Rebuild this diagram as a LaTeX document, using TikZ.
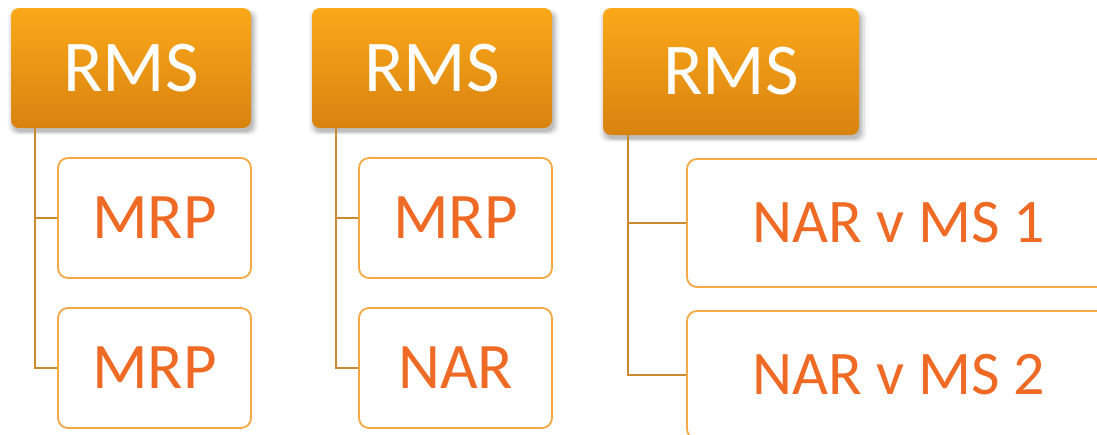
\documentclass[tikz,border=0pt]{standalone}
\usepackage{fontspec}
\setmainfont{Carlito}
\usetikzlibrary{shadows}
\definecolor{hdtop}{HTML}{FCA81A}
\definecolor{hdbot}{HTML}{D8830F}
\definecolor{kidline}{HTML}{F5A843}
\definecolor{kidtext}{HTML}{EF6A24}
\definecolor{conn}{HTML}{C98A30}
\tikzset{
  head/.style={rectangle, rounded corners=8pt, top color=hdtop, bottom color=hdbot, draw=none,
    text=white, font=\fontsize{73}{80}\selectfont, inner sep=0pt,
    general shadow={shadow xshift=2pt, shadow yshift=-4pt, shadow scale=1.0, opacity=0.10, fill=black},
    general shadow={shadow xshift=2pt, shadow yshift=-4pt, shadow scale=1.015, opacity=0.08, fill=black},
    general shadow={shadow xshift=2pt, shadow yshift=-4pt, shadow scale=1.03, opacity=0.06, fill=black},
    general shadow={shadow xshift=2pt, shadow yshift=-4pt, shadow scale=1.045, opacity=0.04, fill=black}},
  kid/.style={rectangle, rounded corners=10pt, draw=kidline, line width=1.8pt, fill=white,
    text=kidtext, inner sep=0pt},
  link/.style={draw=conn, line width=2pt}
}
\begin{document}
\begin{tikzpicture}[x=1pt,y=-1pt]
\useasboundingbox (0,0) rectangle (1097,434);
\clip (0,0) rectangle (1097,434);
\fill[white] (0,0) rectangle (1097,434);
% column 1
\node[head, minimum width=240pt, minimum height=120pt] (p1) at (131,68) {RMS};
\node[kid, minimum width=193pt, minimum height=120pt, font=\fontsize{65}{72}\selectfont] (a1) at (154.5,218) {MRP};
\node[kid, minimum width=193pt, minimum height=120pt, font=\fontsize{65}{72}\selectfont] (a2) at (154.5,368) {MRP};
\draw[link] ([xshift=24pt]p1.south west) |- (a1.west);
\draw[link] ([xshift=24pt]p1.south west) |- (a2.west);
% column 2
\node[head, minimum width=240pt, minimum height=120pt] (p2) at (432,68) {RMS};
\node[kid, minimum width=193pt, minimum height=120pt, font=\fontsize{65}{72}\selectfont] (b1) at (455.5,218) {MRP};
\node[kid, minimum width=193pt, minimum height=120pt, font=\fontsize{65}{72}\selectfont] (b2) at (455.5,368) {NAR};
\draw[link] ([xshift=24pt]p2.south west) |- (b1.west);
\draw[link] ([xshift=24pt]p2.south west) |- (b2.west);
% column 3
\node[head, minimum width=256pt, minimum height=127pt] (p3) at (731,71.5) {RMS};
\node[kid, minimum width=424pt, minimum height=128pt, font=\fontsize{62}{70}\selectfont] (c1) at (899,223) {NAR v MS 1};
\node[kid, minimum width=424pt, minimum height=128pt, font=\fontsize{62}{70}\selectfont] (c2) at (899,375) {NAR v MS 2};
\draw[link] ([xshift=25pt]p3.south west) |- (c1.west);
\draw[link] ([xshift=25pt]p3.south west) |- (c2.west);
\end{tikzpicture}
\end{document}
